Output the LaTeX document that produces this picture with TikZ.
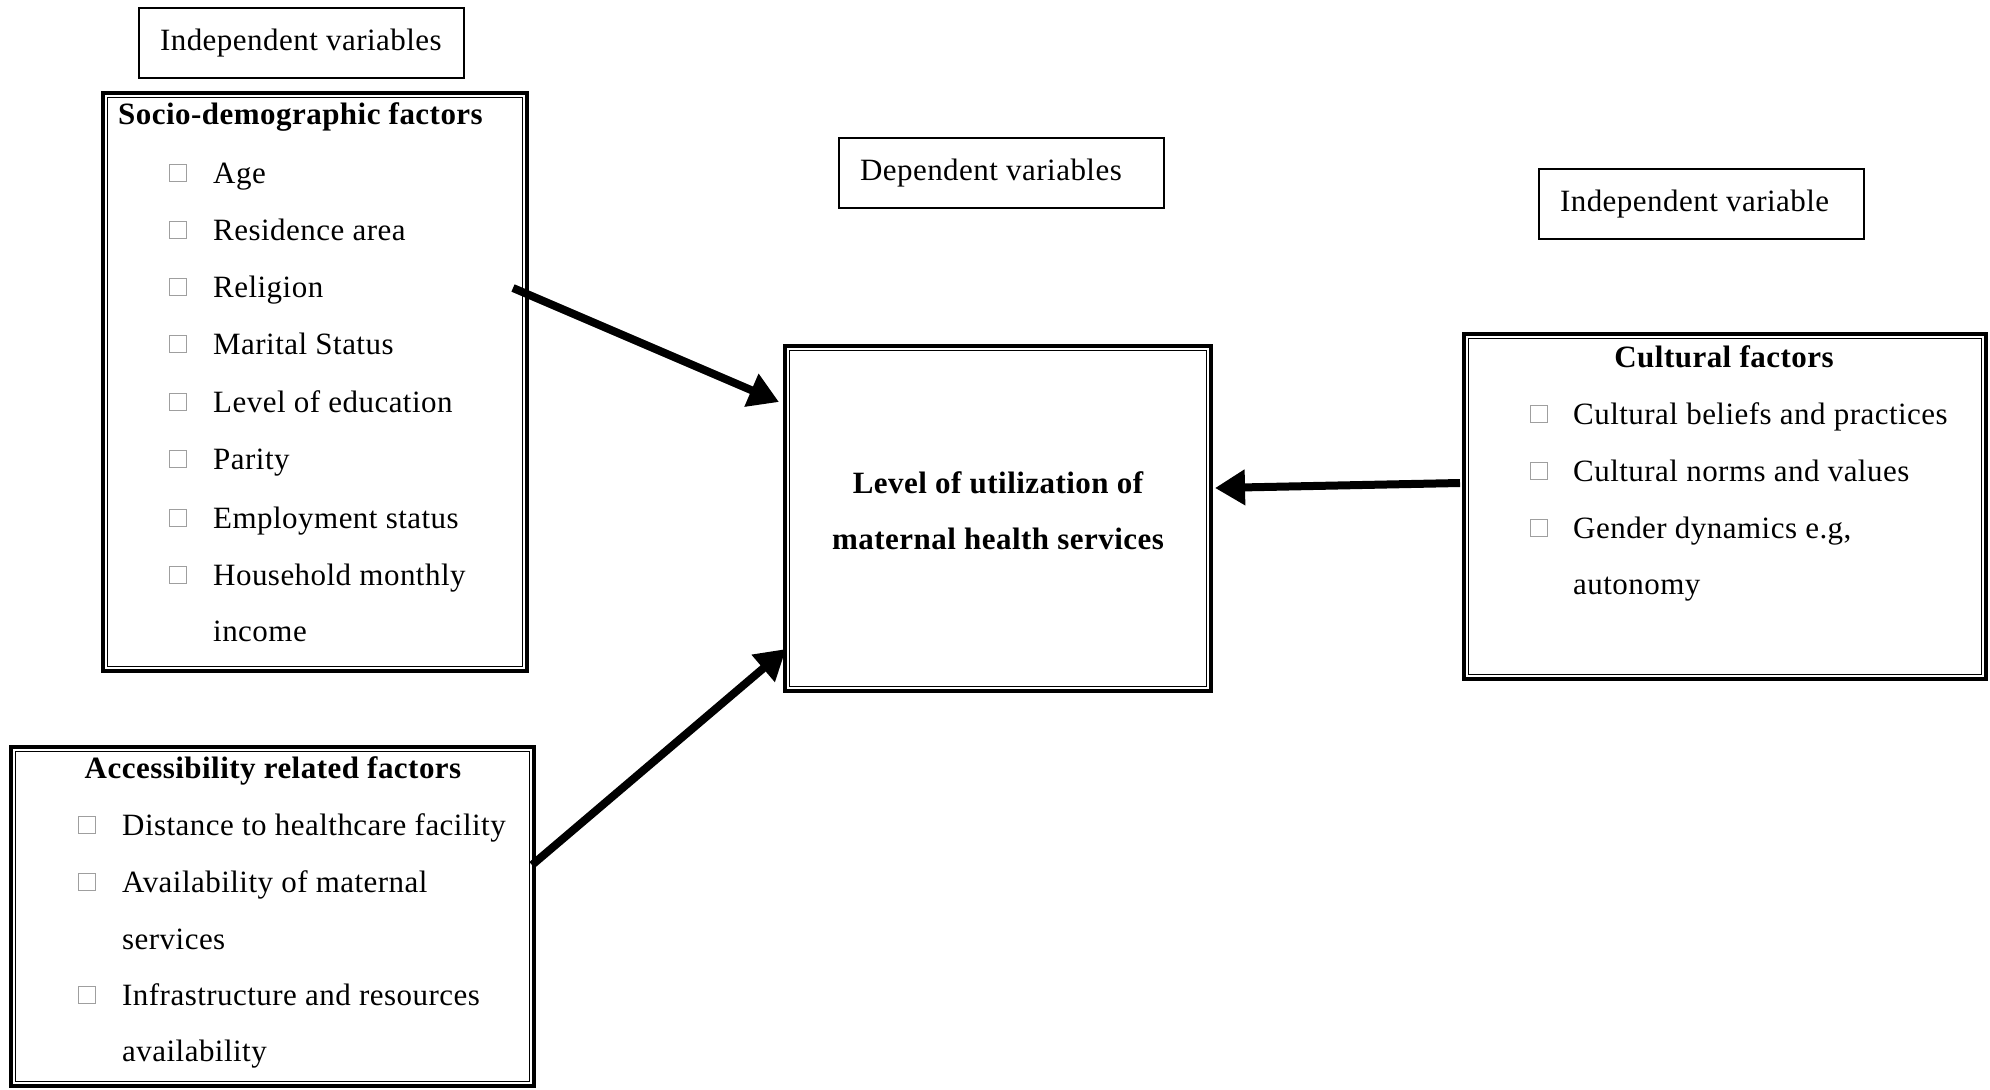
\documentclass[tikz,border=0pt]{standalone}
\usepackage{fontspec}
\setmainfont[LetterSpace=1.5]{Liberation Serif}
\usetikzlibrary{arrows.meta}
\newcommand{\lbltext}[1]{\makebox[283pt][l]{#1}}
\begin{document}
\begin{tikzpicture}[x=1pt,y=-1pt,
  txt/.style={font=\fontsize{31}{37}\selectfont, inner sep=0pt},
  ttl/.style={font=\fontsize{31}{37}\selectfont\bfseries, inner sep=0pt},
  labelbox/.style={draw, line width=1.5pt, minimum width=325pt, minimum height=70pt,
    inner xsep=21pt, font=\fontsize{31}{37}\selectfont},
  framebox/.style={draw, line width=4.5pt, inner sep=0pt},
  innerframe/.style={line width=1.3pt},
  cbox/.style={draw=gray!75, line width=0.9pt, minimum size=17pt, inner sep=0pt},
  bigarrow/.style={line width=8pt, -{Triangle[length=30pt,width=34pt]}}
]
\useasboundingbox (0,0) rectangle (1990,1090);

% label boxes
\node[labelbox] (lab1) at (301.5,43) {\lbltext{Independent variables}};
\node[labelbox] (lab2) at (1001.5,173) {\lbltext{Dependent variables}};
\node[labelbox] (lab3) at (1701.5,204) {\lbltext{Independent variable}};

% frames
\node[framebox, minimum width=424pt, minimum height=578pt] (socio) at (315,382) {};
\draw[innerframe] ([shift={(6.5,6.5)}]socio.north west) rectangle ([shift={(-6.5,-6.5)}]socio.south east);

\node[framebox, minimum width=426pt, minimum height=345pt] (central) at (998,518.5) {};
\draw[innerframe] ([shift={(6.5,6.5)}]central.north west) rectangle ([shift={(-6.5,-6.5)}]central.south east);

\node[framebox, minimum width=522pt, minimum height=345pt] (cult) at (1725,506.5) {};
\draw[innerframe] ([shift={(6.5,6.5)}]cult.north west) rectangle ([shift={(-6.5,-6.5)}]cult.south east);

\node[framebox, minimum width=523pt, minimum height=339pt] (access) at (272.5,916.5) {};
\draw[innerframe] ([shift={(6.5,6.5)}]access.north west) rectangle ([shift={(-6.5,-6.5)}]access.south east);

% socio-demographic contents
\node[ttl, anchor=base west] (sociot) at (118,124) {Socio-demographic factors};
\foreach \i/\t/\y in {1/Age/183, 2/Residence area/240, 3/Religion/297, 4/Marital Status/354,
  5/Level of education/412, 6/Parity/469, 7/Employment status/528, 8/Household monthly/585} {
  \node[cbox] (sb\i) at (178,\y-10) {};
  \node[txt, anchor=base west] (si\i) at (213,\y) {\t};
}
\node[txt, anchor=base west] (si9) at (213,641) {income};

% central
\node[font=\fontsize{31}{56}\selectfont\bfseries, align=center, inner sep=0pt] (ctext) at (998,511)
  {Level of utilization of\\maternal health services};

% cultural contents
\node[ttl, anchor=base] (cultt) at (1724,367) {Cultural factors};
\foreach \i/\t/\y in {1/Cultural beliefs and practices/424, 2/Cultural norms and values/481,
  3/{Gender dynamics e.g,}/538} {
  \node[cbox] (cb\i) at (1539,\y-10) {};
  \node[txt, anchor=base west] (ci\i) at (1573,\y) {\t};
}
\node[txt, anchor=base west] (ci4) at (1573,594) {autonomy};

% accessibility contents
\node[ttl, anchor=base] (acct) at (273,778) {Accessibility related factors};
\node[cbox] (ab1) at (87,825) {};
\node[txt, anchor=base west] (ai1) at (122,835) {Distance to healthcare facility};
\node[cbox] (ab2) at (87,882) {};
\node[txt, anchor=base west] (ai2) at (122,892) {Availability of maternal};
\node[txt, anchor=base west] (ai3) at (122,949) {services};
\node[cbox] (ab3) at (87,995) {};
\node[txt, anchor=base west] (ai4) at (122,1005) {Infrastructure and resources};
\node[txt, anchor=base west] (ai5) at (122,1061) {availability};

% arrows
\coordinate (a1s) at (513,288); \coordinate (a1e) at (779,402);
\coordinate (a2s) at (532,865); \coordinate (a2e) at (786,649);
\coordinate (a3s) at (1460,483); \coordinate (a3e) at (1215,488);
\draw[bigarrow] (a1s) -- (a1e);
\draw[bigarrow] (a2s) -- (a2e);
\draw[bigarrow] (a3s) -- (a3e);
\end{tikzpicture}
\end{document}
